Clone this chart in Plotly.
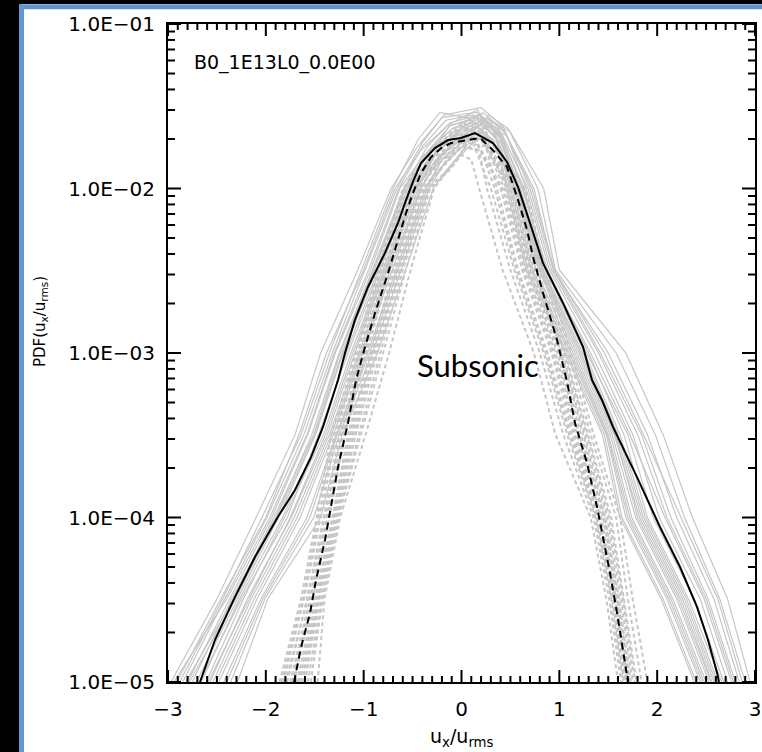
import plotly.graph_objects as go

# ---------------------------------------------------------------------------
# Data: PDFs of u_x/u_rms (subsonic run B0_1E13L0_0.0E00)
# ---------------------------------------------------------------------------

# PDF levels at which the flank positions of the individual snapshots are given
FLANK_PDF = [1.0e-5, 3.2e-5, 1.0e-4, 3.2e-4, 1.0e-3, 3.2e-3, 1.0e-2]

# individual snapshots, solid: left flank (u at FLANK_PDF, rising),
# crown (u, pdf) and right flank (u at FLANK_PDF, falling)
SOLID_LEFT = [
    [-2.97, -2.50, -2.10, -1.70, -1.44, -1.06, -0.72],
    [-2.91, -2.46, -2.00, -1.66, -1.38, -1.00, -0.68],
    [-2.85, -2.42, -1.99, -1.61, -1.32, -0.99, -0.66],
    [-2.80, -2.37, -1.94, -1.57, -1.29, -0.93, -0.63],
    [-2.75, -2.35, -1.90, -1.53, -1.25, -0.91, -0.59],
    [-2.71, -2.29, -1.87, -1.49, -1.21, -0.87, -0.55],
    [-2.66, -2.27, -1.83, -1.44, -1.18, -0.85, -0.53],
    [-2.61, -2.23, -1.81, -1.41, -1.13, -0.81, -0.49],
    [-2.59, -2.17, -1.75, -1.39, -1.11, -0.79, -0.46],
    [-2.54, -2.15, -1.71, -1.35, -1.05, -0.76, -0.44],
    [-2.48, -2.09, -1.65, -1.31, -1.01, -0.71, -0.41],
    [-2.43, -2.05, -1.58, -1.28, -0.96, -0.67, -0.37],
    [-2.36, -2.01, -1.51, -1.25, -0.91, -0.62, -0.33],
    [-2.29, -1.98, -1.44, -1.22, -0.86, -0.57, -0.29],
    [-2.88, -2.44, -2.04, -1.64, -1.35, -1.02, -0.70],
    [-2.68, -2.25, -1.78, -1.46, -1.16, -0.83, -0.51],
    [-2.94, -2.40, -1.96, -1.58, -1.30, -0.95, -0.64],
    [-2.82, -2.33, -1.92, -1.51, -1.24, -0.90, -0.58],
    [-2.57, -2.19, -1.74, -1.37, -1.09, -0.78, -0.47],
    [-2.51, -2.12, -1.68, -1.33, -1.03, -0.73, -0.42],
    [-2.40, -2.03, -1.55, -1.27, -0.94, -0.65, -0.35],
    [-2.78, -2.31, -1.89, -1.50, -1.22, -0.89, -0.57],
]
SOLID_CROWN_U = [
    [-0.45, -0.20, 0.15, 0.40],
    [-0.42, -0.15, 0.10, 0.35],
    [-0.40, -0.18, 0.20, 0.42],
    [-0.38, -0.10, 0.12, 0.36],
    [-0.35, -0.12, 0.18, 0.38],
    [-0.32, -0.08, 0.20, 0.40],
    [-0.30, -0.05, 0.15, 0.35],
    [-0.28, -0.05, 0.22, 0.45],
    [-0.26, 0.00, 0.20, 0.36],
    [-0.25, 0.00, 0.25, 0.42],
    [-0.22, 0.02, 0.22, 0.40],
    [-0.20, 0.05, 0.28, 0.48],
    [-0.18, 0.05, 0.25, 0.46],
    [-0.15, 0.08, 0.30, 0.50],
    [-0.44, -0.22, 0.05, 0.30],
    [-0.30, -0.10, 0.16, 0.38],
    [-0.40, -0.16, 0.12, 0.38],
    [-0.34, -0.12, 0.14, 0.36],
    [-0.27, -0.02, 0.20, 0.42],
    [-0.24, 0.00, 0.22, 0.38],
    [-0.20, 0.04, 0.26, 0.44],
    [-0.33, -0.10, 0.18, 0.40],
]
SOLID_CROWN_PDF = [
    [0.018, 0.027, 0.029, 0.022],
    [0.017, 0.024, 0.026, 0.021],
    [0.019, 0.028, 0.031, 0.024],
    [0.016, 0.023, 0.025, 0.019],
    [0.018, 0.025, 0.028, 0.021],
    [0.017, 0.022, 0.027, 0.020],
    [0.016, 0.021, 0.024, 0.018],
    [0.016, 0.022, 0.029, 0.022],
    [0.015, 0.020, 0.023, 0.018],
    [0.017, 0.023, 0.026, 0.020],
    [0.016, 0.021, 0.025, 0.019],
    [0.015, 0.020, 0.028, 0.023],
    [0.014, 0.019, 0.024, 0.021],
    [0.013, 0.018, 0.026, 0.022],
    [0.020, 0.029, 0.027, 0.026],
    [0.017, 0.025, 0.030, 0.021],
    [0.018, 0.026, 0.028, 0.023],
    [0.017, 0.024, 0.027, 0.020],
    [0.016, 0.022, 0.026, 0.021],
    [0.015, 0.021, 0.025, 0.019],
    [0.015, 0.020, 0.027, 0.022],
    [0.017, 0.023, 0.028, 0.021],
]
SOLID_RIGHT = [
    [0.62, 0.88, 1.30, 1.66, 1.90, 2.32, 2.66],
    [0.55, 0.79, 1.16, 1.52, 1.74, 2.16, 2.50],
    [0.70, 0.94, 1.42, 1.84, 2.14, 2.52, 2.80],
    [0.52, 0.73, 1.12, 1.49, 1.70, 2.12, 2.46],
    [0.60, 0.84, 1.24, 1.60, 1.86, 2.28, 2.60],
    [0.57, 0.81, 1.20, 1.56, 1.82, 2.24, 2.56],
    [0.48, 0.68, 1.08, 1.46, 1.64, 2.06, 2.40],
    [0.66, 0.90, 1.36, 1.75, 2.02, 2.44, 2.72],
    [0.46, 0.66, 1.06, 1.44, 1.62, 2.04, 2.38],
    [0.64, 0.86, 1.28, 1.70, 1.96, 2.38, 2.68],
    [0.58, 0.82, 1.22, 1.58, 1.84, 2.26, 2.58],
    [0.78, 0.96, 1.58, 1.98, 2.28, 2.64, 2.90],
    [0.74, 0.94, 1.50, 1.90, 2.20, 2.58, 2.84],
    [0.84, 1.00, 1.68, 2.06, 2.36, 2.72, 2.95],
    [0.50, 0.71, 1.10, 1.48, 1.68, 2.10, 2.44],
    [0.60, 0.86, 1.26, 1.62, 1.88, 2.30, 2.62],
    [0.63, 0.86, 1.32, 1.72, 2.08, 2.48, 2.76],
    [0.54, 0.76, 1.14, 1.50, 1.72, 2.14, 2.48],
    [0.68, 0.92, 1.40, 1.80, 2.10, 2.50, 2.78],
    [0.56, 0.80, 1.18, 1.54, 1.78, 2.20, 2.53],
    [0.72, 0.95, 1.46, 1.86, 2.24, 2.62, 2.87],
    [0.59, 0.83, 1.22, 1.57, 1.80, 2.22, 2.55],
]

# individual snapshots, dashed
DASHED_LEFT = [
    [-1.86, -1.64, -1.48, -1.33, -1.08, -0.86, -0.60],
    [-1.82, -1.61, -1.44, -1.28, -1.04, -0.82, -0.56],
    [-1.78, -1.58, -1.41, -1.25, -1.02, -0.79, -0.53],
    [-1.75, -1.55, -1.38, -1.22, -0.99, -0.76, -0.50],
    [-1.71, -1.52, -1.35, -1.19, -0.97, -0.73, -0.47],
    [-1.68, -1.50, -1.32, -1.16, -0.93, -0.70, -0.44],
    [-1.64, -1.47, -1.30, -1.12, -0.90, -0.66, -0.40],
    [-1.60, -1.45, -1.28, -1.08, -0.86, -0.62, -0.36],
    [-1.54, -1.42, -1.26, -1.03, -0.80, -0.57, -0.32],
    [-1.47, -1.40, -1.24, -0.98, -0.74, -0.52, -0.28],
    [-1.80, -1.57, -1.40, -1.23, -1.00, -0.77, -0.51],
    [-1.66, -1.48, -1.31, -1.14, -0.92, -0.68, -0.42],
    [-1.84, -1.62, -1.46, -1.30, -1.06, -0.84, -0.58],
    [-1.73, -1.54, -1.37, -1.20, -0.98, -0.74, -0.48],
    [-1.62, -1.46, -1.29, -1.10, -0.88, -0.64, -0.38],
    [-1.57, -1.43, -1.27, -1.05, -0.83, -0.60, -0.34],
]
DASHED_CROWN_U = [
    [-0.35, -0.10, 0.10],
    [-0.30, -0.05, 0.15],
    [-0.28, 0.00, 0.20],
    [-0.25, 0.00, 0.18],
    [-0.22, 0.05, 0.25],
    [-0.20, 0.02, 0.22],
    [-0.18, 0.05, 0.25],
    [-0.15, 0.08, 0.30],
    [-0.12, 0.00, 0.10],
    [-0.10, 0.10, 0.30],
    [-0.26, 0.00, 0.20],
    [-0.20, 0.05, 0.22],
    [-0.32, -0.08, 0.14],
    [-0.23, 0.02, 0.20],
    [-0.17, 0.06, 0.26],
    [-0.14, 0.05, 0.20],
]
DASHED_CROWN_PDF = [
    [0.016, 0.022, 0.020],
    [0.015, 0.020, 0.019],
    [0.016, 0.024, 0.021],
    [0.014, 0.018, 0.017],
    [0.016, 0.021, 0.022],
    [0.015, 0.020, 0.020],
    [0.014, 0.019, 0.018],
    [0.015, 0.022, 0.020],
    [0.013, 0.016, 0.015],
    [0.014, 0.020, 0.019],
    [0.017, 0.025, 0.023],
    [0.016, 0.023, 0.021],
    [0.015, 0.021, 0.020],
    [0.015, 0.021, 0.020],
    [0.014, 0.020, 0.019],
    [0.013, 0.018, 0.017],
]
DASHED_RIGHT = [
    [0.30, 0.54, 0.84, 1.08, 1.37, 1.53, 1.65],
    [0.40, 0.62, 0.92, 1.14, 1.40, 1.56, 1.68],
    [0.52, 0.74, 1.03, 1.26, 1.49, 1.63, 1.75],
    [0.26, 0.50, 0.80, 1.04, 1.35, 1.51, 1.63],
    [0.56, 0.78, 1.06, 1.29, 1.53, 1.66, 1.79],
    [0.48, 0.70, 1.00, 1.22, 1.46, 1.60, 1.72],
    [0.44, 0.66, 0.96, 1.18, 1.43, 1.58, 1.70],
    [0.60, 0.82, 1.09, 1.32, 1.58, 1.70, 1.84],
    [0.18, 0.42, 0.74, 0.96, 1.32, 1.48, 1.60],
    [0.65, 0.86, 1.12, 1.35, 1.62, 1.75, 1.90],
    [0.46, 0.68, 0.98, 1.20, 1.45, 1.59, 1.71],
    [0.36, 0.58, 0.88, 1.12, 1.39, 1.55, 1.67],
    [0.42, 0.64, 0.94, 1.16, 1.42, 1.57, 1.69],
    [0.50, 0.72, 1.02, 1.24, 1.47, 1.61, 1.73],
    [0.54, 0.76, 1.05, 1.28, 1.51, 1.65, 1.77],
    [0.34, 0.56, 0.86, 1.10, 1.38, 1.54, 1.66],
]

# time-averaged PDFs
MEAN_SOLID_U = [
    -2.673, -2.520, -2.315, -2.111, -1.876, -1.702, -1.538, -1.416, -1.262,
    -1.191, -1.089, -0.956, -0.782, -0.649, -0.567, -0.496, -0.414, -0.271,
    -0.138, -0.005, 0.138, 0.322, 0.465, 0.578, 0.700, 0.833, 1.038, 1.242,
    1.334, 1.436, 1.549, 1.794, 2.029, 2.234, 2.407, 2.520, 2.612, 2.632,
]
MEAN_SOLID_PDF = [
    1.00e-5, 1.80e-5, 3.29e-5, 5.75e-5, 1.01e-4, 1.47e-4, 2.33e-4, 3.55e-4,
    6.85e-4, 1.00e-3, 1.59e-3, 2.52e-3, 4.06e-3, 6.17e-3, 8.51e-3, 1.10e-2,
    1.43e-2, 1.76e-2, 1.97e-2, 2.03e-2, 2.17e-2, 1.89e-2, 1.45e-2, 1.02e-2,
    6.17e-3, 3.52e-3, 2.01e-3, 1.09e-3, 6.85e-4, 5.18e-4, 3.55e-4, 1.76e-4,
    8.75e-5, 5.00e-5, 2.86e-5, 1.80e-5, 1.14e-5, 1.00e-5,
]
MEAN_DASHED_U = [
    -1.712, -1.640, -1.548, -1.487, -1.395, -1.334, -1.262, -1.160, -1.078,
    -0.986, -0.884, -0.751, -0.649, -0.567, -0.496, -0.414, -0.312, -0.209,
    -0.107, 0.067, 0.189, 0.322, 0.465, 0.578, 0.670, 0.731, 0.833, 0.976,
    1.079, 1.160, 1.283, 1.385, 1.446, 1.518, 1.590, 1.651, 1.702,
]
MEAN_DASHED_PDF = [
    1.00e-5, 1.63e-5, 2.62e-5, 4.17e-5, 7.30e-5, 1.16e-4, 2.03e-4, 3.75e-4,
    6.85e-4, 1.09e-3, 1.75e-3, 3.06e-3, 4.86e-3, 7.10e-3, 9.40e-3, 1.24e-2,
    1.55e-2, 1.76e-2, 1.89e-2, 1.97e-2, 2.03e-2, 1.71e-2, 1.35e-2, 8.51e-3,
    5.60e-3, 3.84e-3, 2.32e-3, 1.20e-3, 6.67e-4, 3.75e-4, 2.14e-4, 1.16e-4,
    7.60e-5, 4.60e-5, 2.62e-5, 1.50e-5, 1.00e-5,
]

Y_TICKS = [1e-5, 1e-4, 1e-3, 1e-2, 1e-1]
Y_TICK_TEXT = ["1.0E\u221205", "1.0E\u221204", "1.0E\u221203", "1.0E\u221202", "1.0E\u221201"]
X_TICKS = [-3, -2, -1, 0, 1, 2, 3]
X_TICK_TEXT = ["\u22123", "\u22122", "\u22121", "0", "1", "2", "3"]
# minor tick positions: every 0.1 in u, every digit within a decade in PDF
X_MINOR = [i / 10 for i in range(-29, 30) if i % 10 != 0]
Y_MINOR = [m * 10.0 ** e for e in range(-5, -1) for m in range(2, 10)]

RUN_LABEL = "B0_1E13L0_0.0E00"
REGIME_LABEL = "Subsonic"

# ---------------------------------------------------------------------------
GREY = "#c6c6c6"
FRAME_BLUE = "#6496d2"
W, H = 762, 752
ML, MR, MT, MB = 168, 7, 24, 70
PW, PH = W - ML - MR, H - MT - MB


def px_x(px):
    return (px - ML) / PW


def px_y(py):
    return (H - MB - py) / PH


def profile(left, cu, cp, right):
    u = list(left) + list(cu) + list(right)
    p = list(FLANK_PDF) + list(cp) + list(FLANK_PDF[::-1])
    return u, p


fig = go.Figure()

for left, cu, cp, right in zip(SOLID_LEFT, SOLID_CROWN_U, SOLID_CROWN_PDF, SOLID_RIGHT):
    u, p = profile(left, cu, cp, right)
    fig.add_trace(go.Scatter(x=u, y=p, mode="lines",
                             line=dict(color=GREY, width=1.2), hoverinfo="skip"))

for left, cu, cp, right in zip(DASHED_LEFT, DASHED_CROWN_U, DASHED_CROWN_PDF, DASHED_RIGHT):
    u, p = profile(left, cu, cp, right)
    fig.add_trace(go.Scatter(x=u, y=p, mode="lines",
                             line=dict(color=GREY, width=2, dash="4px,3px"),
                             hoverinfo="skip"))

fig.add_trace(go.Scatter(x=MEAN_DASHED_U, y=MEAN_DASHED_PDF, mode="lines",
                         line=dict(color="black", width=2, dash="7px,5px")))
fig.add_trace(go.Scatter(x=MEAN_SOLID_U, y=MEAN_SOLID_PDF, mode="lines",
                         line=dict(color="black", width=2)))

tick_font = dict(family="DejaVu Sans", size=20, color="black")

fig.update_layout(
    xaxis=dict(
        range=[-3, 3], tickmode="array", tickvals=X_TICKS, ticktext=X_TICK_TEXT,
        ticks="", showline=True, linecolor="black", linewidth=2, mirror=True,
        showgrid=False, zeroline=False, tickfont=tick_font,
        ticklabelstandoff=8,
    ),
    yaxis=dict(
        type="log", range=[-5, -1], tickmode="array", tickvals=Y_TICKS,
        ticktext=Y_TICK_TEXT,
        ticks="", showline=True, linecolor="black", linewidth=2, mirror=True,
        showgrid=False, zeroline=False, tickfont=tick_font,
        ticklabelstandoff=7,
    ),
)

# inward tick marks on all four sides of the box (major and minor)
TICK_LINE = dict(color="black", width=2)
shapes = []
for xv, ln in [(v, 12) for v in X_TICKS] + [(v, 6) for v in X_MINOR]:
    d = ln / PH
    shapes.append(dict(type="line", xref="x", yref="paper", layer="above",
                       x0=xv, x1=xv, y0=0, y1=d, line=TICK_LINE))
    shapes.append(dict(type="line", xref="x", yref="paper", layer="above",
                       x0=xv, x1=xv, y0=1, y1=1 - d, line=TICK_LINE))
for yv, ln in [(v, 13) for v in Y_TICKS] + [(v, 7) for v in Y_MINOR]:
    d = ln / PW
    shapes.append(dict(type="line", xref="paper", yref="y", layer="above",
                       x0=0, x1=d, y0=yv, y1=yv, line=TICK_LINE))
    shapes.append(dict(type="line", xref="paper", yref="y", layer="above",
                       x0=1, x1=1 - d, y0=yv, y1=yv, line=TICK_LINE))

# dark surround and blue frame of the slide panel (outside the plotting area)
shapes += [
    dict(type="rect", xref="paper", yref="paper", layer="above",
         x0=px_x(-10), x1=px_x(19), y0=px_y(800), y1=px_y(-10),
         fillcolor="black", line=dict(width=0)),
    dict(type="rect", xref="paper", yref="paper", layer="above",
         x0=px_x(-10), x1=px_x(800), y0=px_y(4), y1=px_y(-10),
         fillcolor="black", line=dict(width=0)),
    dict(type="line", xref="paper", yref="paper", layer="above",
         x0=px_x(21.5), x1=px_x(21.5), y0=px_y(800), y1=px_y(4.25),
         line=dict(color=FRAME_BLUE, width=5)),
    dict(type="line", xref="paper", yref="paper", layer="above",
         x0=px_x(19), x1=px_x(800), y0=px_y(6.75), y1=px_y(6.75),
         line=dict(color=FRAME_BLUE, width=5)),
]

annotations = [
    dict(text=RUN_LABEL, xref="paper", yref="paper", x=px_x(192), y=px_y(63),
         xanchor="left", yanchor="middle", showarrow=False,
         font=dict(family="DejaVu Sans", size=19, color="black")),
    dict(text=REGIME_LABEL, xref="paper", yref="paper", x=px_x(478), y=px_y(365),
         xanchor="center", yanchor="middle", showarrow=False,
         font=dict(family="Lato", size=31, color="black")),
    dict(text="u<sub>x</sub>/u<sub>rms</sub>", xref="paper", yref="paper",
         x=px_x(462), y=px_y(738), xanchor="center", yanchor="middle",
         showarrow=False, font=dict(family="DejaVu Sans", size=19, color="black")),
    dict(text="PDF(u<sub>x</sub>/u<sub>rms</sub>)", xref="paper", yref="paper",
         x=px_x(40), y=px_y(322), xanchor="center", yanchor="middle",
         textangle=-90, showarrow=False,
         font=dict(family="DejaVu Sans", size=15, color="black")),
]

fig.update_layout(
    width=W, height=H,
    margin=dict(l=ML, r=MR, t=MT, b=MB, autoexpand=False),
    paper_bgcolor="white", plot_bgcolor="white",
    showlegend=False,
    shapes=shapes, annotations=annotations,
)

fig.write_html("out.html")
